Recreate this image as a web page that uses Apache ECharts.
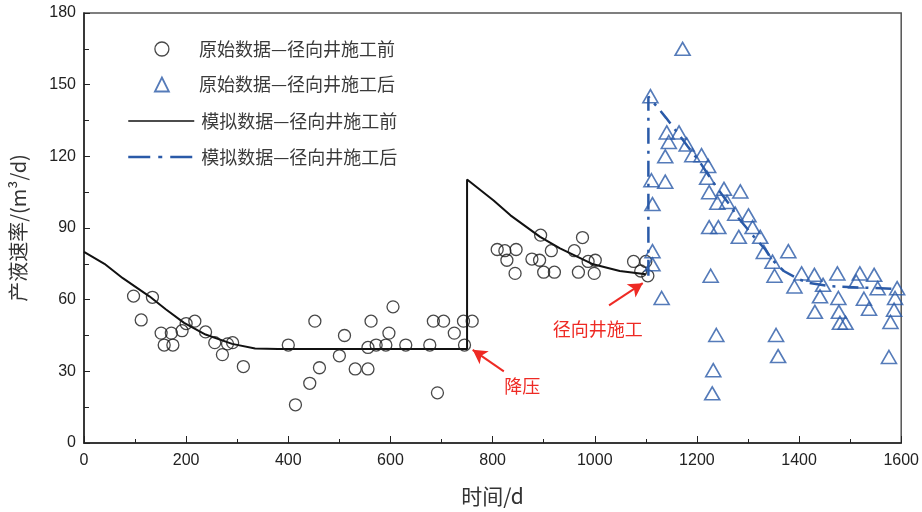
<!DOCTYPE html>
<html>
<head>
<meta charset="utf-8">
<script src="https://cdn.jsdelivr.net/npm/echarts@6/dist/echarts.min.js"></script>
<style>
html,body{margin:0;padding:0;background:#fff;}
#chart{width:922px;height:512px;}
</style>
</head>
<body>
<div id="chart"></div>
<script>
// ---- data ----
const seriesNames = ['原始数据—径向井施工前','原始数据—径向井施工后','模拟数据—径向井施工前','模拟数据—径向井施工后'];

const obsBefore = [
  [97,61.5],[112,51.5],[134,61],[151,46],[157,41],[171,46],[174,41],[192,47],[200,50],[217,51],
  [238,46.5],[256,42],[271,37],[281,41.5],[291,42],[312,32],
  [400,41],[414,16],[442,25],[452,51],[461,31.5],[500,36.5],[510,45],[531,31],[556,31],[556,40],
  [562,51],[572,41],[591,41],[597,46],[605,57],[630,41],[677,41],[684,51],[692,21],[704,51],
  [725,46],[743,51],[745,41],[760,51],
  [809,81],[824,80.5],[846,81],[828,76.5],[844,71],[877,77],[894,87],[892,76.5],[900,71.5],
  [915,80.5],[921,71.5],[960,80.5],[968,71.5],[976,86],[987,76],[1001,76.5],[999,71],
  [1076,76],[1090,72],[1100,76],[1104,70]
];

const obsAfter = [
  [1109,145.2],[1172,165],[1141,130],[1165,130],[1145,126],[1180,125],[1191,120.5],[1138,120],
  [1209,120.5],[1222,116],[1111,110],[1138,109.4],[1220,111],[1224,105],[1253,106.4],[1285,105.3],
  [1240,100.6],[1259,100.9],[1113,100],[1275,96],[1301,95.3],[1224,90.4],[1242,90.4],[1309,90.4],
  [1282,86.3],[1324,86.3],[1113,80.3],[1113,74.8],[1331,80],[1227,70],[1131,60.7],[1238,45.2],
  [1232,30.5],[1230,20.8],
  [1379,80.3],[1348,75.9],[1352,70],[1405,71],[1430,70.4],[1391,65.5],[1447,66.2],[1475,71],
  [1519,71],[1547,70.4],[1512,67.6],[1554,64.8],[1592,64.8],[1441,61.4],[1477,60.7],[1527,60.4],
  [1588,60.7],[1431,54.9],[1478,54.9],[1537,56.2],[1586,55.8],[1480,50.3],[1491,50.3],[1579,50.7],
  [1355,45.2],[1359,36.4],[1576,36]
];

const simBefore = [
  [0,80],[40,75],[76,69],[128,61.4],[160,56],[196,50.3],[238,45.4],[290,41.5],[335,39.6],
  [380,39.4],[500,39.4],[750,39.4],
  [750,110.3],[802,101.5],[835,95.3],[893,86.3],[932,81.5],[997,74.8],[1049,72],[1100,70.6]
];

const simAfter = [
  [1105,70],[1105,145],[1125,140],[1140,136],[1165,129],[1181,124.4],[1207,117.2],[1237,107.5],
  [1263,100],[1282,94],[1311,86.5],[1334,81],[1346,77],[1370,72],[1400,68.5],[1420,67],
  [1463,65.6],[1520,65.1],[1590,64.5]
];

const xTicks = {min:0, max:1600, interval:200};
const yTicks = {min:0, max:180, interval:30};

// annotations: [text, textAnchor, arrowFrom, arrowTo]
const annotations = [
  ['降压', [858, 24], [822, 30], [761, 39]],
  ['径向井施工', [1006, 47.5], [1028, 57.6], [1094, 66.9]]
];

// ---- chart ----
const RED = '#ee2a24';
const BLUE = '#2a5aa8';
const labelFont = "'Liberation Sans',Arial,sans-serif";
const cjkFont = "'Noto Sans CJK SC','Liberation Sans',sans-serif";
const legendText = {fontSize: 18, color: '#3a3a3a', fontFamily: cjkFont, lineHeight: 16};
const hiddenDot = {color: 'rgba(0,0,0,0)', borderColor: 'rgba(0,0,0,0)', borderWidth: 0};

const chart = echarts.init(document.getElementById('chart'), null, {renderer:'canvas'});

const option = {
  animation: false,
  backgroundColor: '#fff',
  grid: {left: 80, right: 19, top: 13, bottom: 66, show: true, borderColor: '#555', borderWidth: 1.5, backgroundColor: 'transparent'},
  legend: [
    {
      orient: 'vertical', left: 149, top: 35,
      itemWidth: 14, itemHeight: 14, itemGap: 17.5,
      textStyle: Object.assign({padding: [0,0,0,25]}, legendText),
      data: [
        {name: seriesNames[0], icon: 'circle', itemStyle: {color: 'rgba(255,255,255,0)', borderColor: '#1a1a1a', borderWidth: 1.3}},
        {name: seriesNames[1], icon: 'triangle', itemStyle: {color: 'rgba(255,255,255,0)', borderColor: BLUE, borderWidth: 1.8}}
      ]
    },
    {
      orient: 'vertical', left: 122, top: 107,
      itemWidth: 66, itemHeight: 14, itemGap: 18,
      textStyle: Object.assign({padding: [0,0,0,2]}, legendText),
      data: [
        {name: seriesNames[2], itemStyle: hiddenDot, lineStyle: {color: '#111', width: 1.5}},
        {name: seriesNames[3], itemStyle: hiddenDot, lineStyle: {color: BLUE, type: [22,8,4,8], width: 2.5}}
      ]
    }
  ],
  xAxis: {
    type: 'value', min: xTicks.min, max: xTicks.max, interval: xTicks.interval,
    name: '时间/d', nameLocation: 'middle', nameGap: 43,
    nameTextStyle: {fontSize: 21, color: '#333', fontFamily: cjkFont},
    axisLine: {lineStyle: {color: '#222', width: 1.5}},
    axisTick: {inside: true, length: 7, lineStyle: {color: '#222'}},
    minorTick: {show: true, splitNumber: 2, length: 4, lineStyle: {color: '#222'}},
    splitLine: {show: false},
    axisLabel: {fontSize: 16, color: '#222', margin: 10, fontFamily: labelFont, formatter: v => String(v)}
  },
  yAxis: {
    type: 'value', min: yTicks.min, max: yTicks.max, interval: yTicks.interval,
    name: '产液速率/(m³/d)', nameLocation: 'middle', nameGap: 56, nameRotate: 90,
    nameTextStyle: {fontSize: 20, color: '#333', fontFamily: cjkFont},
    axisLine: {lineStyle: {color: '#222', width: 1.5}},
    axisTick: {inside: true, length: 6, lineStyle: {color: '#222'}},
    minorTick: {show: true, splitNumber: 2, length: 5, lineStyle: {color: '#222'}},
    splitLine: {show: false},
    axisLabel: {fontSize: 16, color: '#222', margin: 8, fontFamily: labelFont, formatter: v => String(v)}
  },
  series: [
    {
      name: seriesNames[0], type: 'scatter', data: obsBefore,
      symbol: 'circle', symbolSize: 12, z: 3,
      itemStyle: {color: 'rgba(255,255,255,0)', borderColor: '#1a1a1a', borderWidth: 1.3}
    },
    {
      name: seriesNames[1], type: 'scatter', data: obsAfter,
      symbol: 'triangle', symbolSize: [15, 13], z: 3,
      itemStyle: {color: 'rgba(255,255,255,0)', borderColor: BLUE, borderWidth: 1.6}
    },
    {
      name: seriesNames[2], type: 'line', data: simBefore, symbol: 'none', z: 2,
      lineStyle: {color: '#111', width: 2},
      itemStyle: {color: '#111'}
    },
    {
      name: seriesNames[3], type: 'line', data: simAfter, symbol: 'none', z: 4,
      lineStyle: {color: BLUE, width: 2.5, type: [16,7,3,7]},
      itemStyle: {color: BLUE}
    },
    {
      name: 'annot', type: 'line', data: [], symbol: 'none', silent: true,
      markLine: {
        silent: true, symbol: ['none','arrow'], symbolSize: [12, 14],
        label: {show: false},
        lineStyle: {color: RED, width: 2, type: 'solid'},
        data: annotations.map(a => [{coord: a[2]}, {coord: a[3]}])
      },
      markPoint: {
        silent: true, symbol: 'circle', symbolSize: 1,
        itemStyle: {color: 'rgba(0,0,0,0)'},
        label: {show: true, position: 'inside', color: RED, fontSize: 18, fontFamily: cjkFont},
        data: annotations.map(a => ({coord: a[1], value: a[0], label: {formatter: a[0]}}))
      }
    }
  ]
};
chart.setOption(option);
</script>
</body>
</html>
